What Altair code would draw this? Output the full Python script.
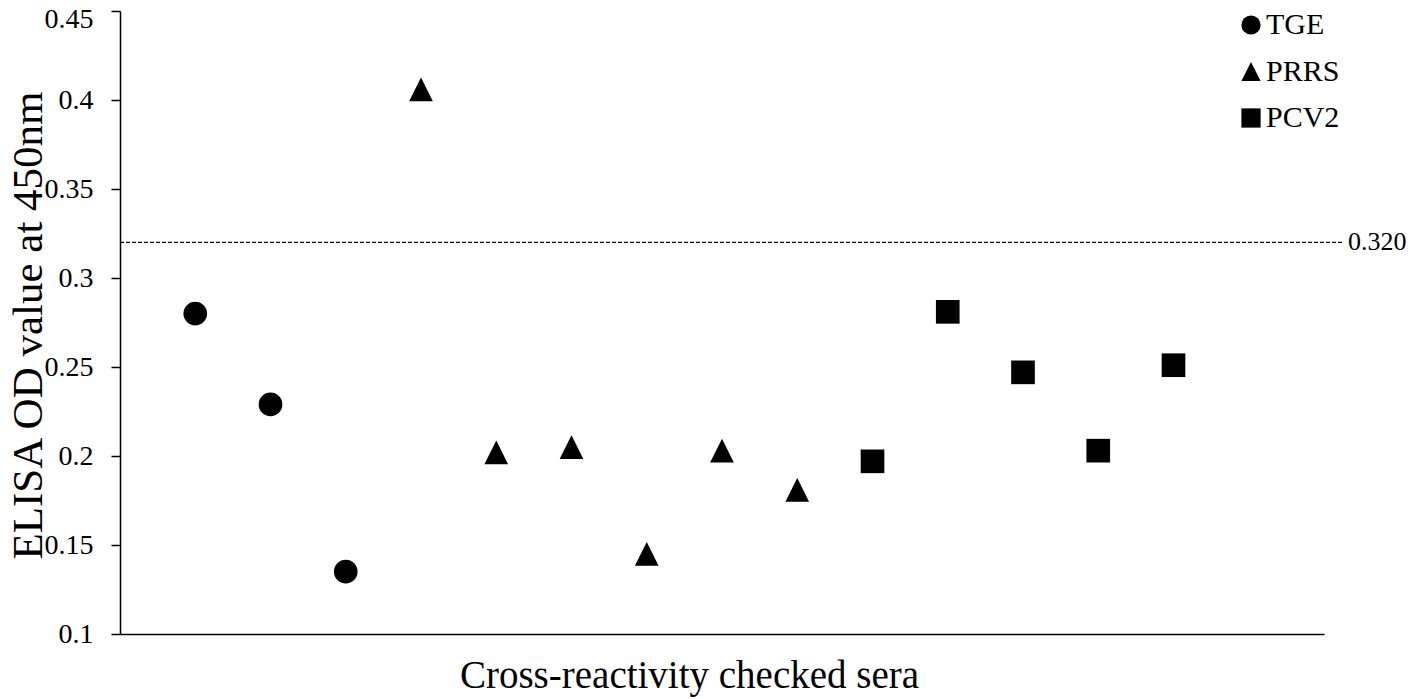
import altair as alt
import pandas as pd

# Data
groups = ["TGE"] * 3 + ["PRRS"] * 6 + ["PCV2"] * 5
sample_index = list(range(1, 15))
od_values = [0.280, 0.229, 0.135,
             0.406, 0.202, 0.205, 0.145, 0.203, 0.181,
             0.197, 0.281, 0.247, 0.203, 0.251]
cutoff = 0.320
cutoff_label = "0.320"
group_order = ["TGE", "PRRS", "PCV2"]
y_ticks = [0.1, 0.15, 0.2, 0.25, 0.3, 0.35, 0.4, 0.45]

df = pd.DataFrame({"sample": sample_index, "od": od_values, "group": groups})

FONT = "Liberation Serif"
W, H = 1204, 623

x_enc = alt.X("sample:Q", scale=alt.Scale(domain=[0, 16], nice=False, zero=False),
              axis=alt.Axis(title="Cross-reactivity checked sera", ticks=False, labels=False,
                            grid=False, domainColor="black", domainWidth=1.5,
                            titleFont=FONT, titleFontSize=39, titleFontWeight="normal",
                            titleColor="black", titleX=569, titleY=53,
                            titleAlign="center", titleBaseline="alphabetic"))
y_enc = alt.Y("od:Q", scale=alt.Scale(domain=[0.1, 0.45], nice=False, zero=False),
              axis=alt.Axis(title="ELISA OD value at 450nm", values=y_ticks, format="~g",
                            grid=False, domainColor="black", domainWidth=1.5,
                            tickColor="black", tickSize=9, tickWidth=1.5,
                            labelFont=FONT, labelFontSize=28, labelColor="black",
                            labelPadding=18, labelBaseline="middle",
                            labelOffset={"condition": {"test": "datum.value > 0.44", "value": 8},
                                         "value": 0},
                            titleFont=FONT, titleFontSize=43, titleFontWeight="normal",
                            titleColor="black", titleAngle=270, titleX=-79, titleY=314,
                            titleAlign="center", titleBaseline="alphabetic"))

points = alt.Chart(df).mark_point(filled=True, opacity=1, color="black", size=560).encode(
    x=x_enc,
    y=y_enc,
    shape=alt.Shape("group:N",
                    scale=alt.Scale(domain=group_order,
                                    range=["circle", "M0,-1L-1,1L1,1Z", "square"]),
                    legend=alt.Legend(title=None, orient="none", legendX=1116, legendY=-1,
                                      labelFont=FONT, labelFontSize=30, labelColor="black",
                                      symbolSize=370, symbolFillColor="black",
                                      symbolStrokeWidth=0, labelOffset=0, rowPadding=16.5,
                                      padding=0)),
)

cut_df = pd.DataFrame({"od": [cutoff], "label": [cutoff_label]})
rule = alt.Chart(cut_df).mark_rule(color="black", strokeWidth=1.2, strokeDash=[4, 2]).encode(
    y="od:Q", x=alt.value(0), x2=alt.value(1222)
)
label = alt.Chart(cut_df).mark_text(align="left", baseline="middle", font=FONT,
                                    fontSize=26, color="black").encode(
    y="od:Q", x=alt.value(1228), text="label:N"
)

chart = alt.layer(points, rule, label).properties(
    width=W, height=H,
    background="white",
    autosize=alt.AutoSizeParams(type="none"),
    padding={"left": 112, "top": 3, "right": 84, "bottom": 65},
).configure_view(stroke=None)

chart.save("out.html", embed_options={"renderer": "svg", "actions": False})
